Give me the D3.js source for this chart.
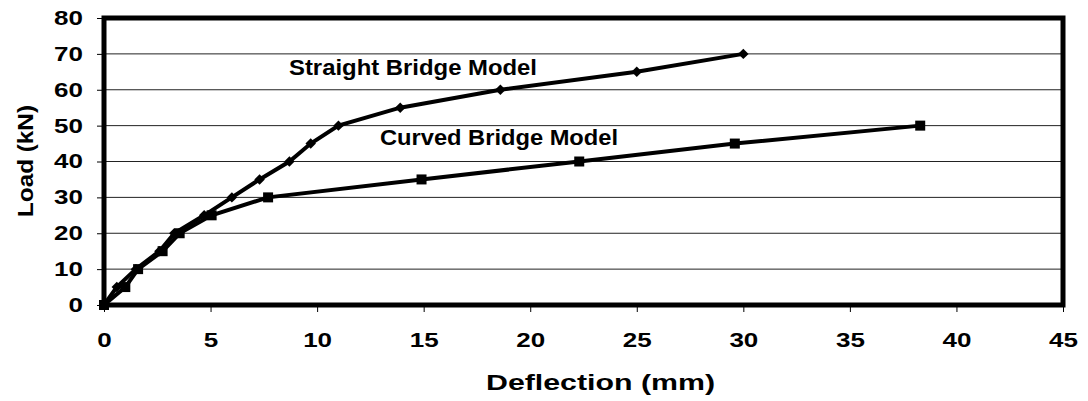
<!DOCTYPE html>
<html>
<head>
<meta charset="utf-8">
<script src="https://cdn.jsdelivr.net/npm/d3@7"></script>
<style>
  body { margin: 0; background: #fff; }
  text { font-family: "Liberation Sans", Arial, sans-serif; font-weight: bold; fill: #000; }
</style>
</head>
<body>
<div id="chart"></div>
<script>
// Load-deflection data
const straightDeflection = [0, 0.6, 1.5, 2.6, 3.3, 4.7, 6.0, 7.3, 8.7, 9.7, 11.0, 13.9, 18.6, 25.0, 30.0];
const straightLoad       = [0, 5, 10, 15, 20, 25, 30, 35, 40, 45, 50, 55, 60, 65, 70];
const curvedDeflection   = [0, 1.0, 1.6, 2.75, 3.55, 5.05, 7.7, 14.9, 22.3, 29.6, 38.3];
const curvedLoad         = [0, 5, 10, 15, 20, 25, 30, 35, 40, 45, 50];
const xTicks = [0, 5, 10, 15, 20, 25, 30, 35, 40, 45];
const yTicks = [0, 10, 20, 30, 40, 50, 60, 70, 80];

(function() {
    const width = 1088, height = 401;
    const margin = {left: 104, right: 25, top: 18, bottom: 96};
    const w = width - margin.left - margin.right;
    const h = height - margin.top - margin.bottom;

    const svg = d3.select("#chart").append("svg")
        .attr("width", width)
        .attr("height", height);

    const x = d3.scaleLinear().domain([0, 45]).range([0, w]);
    const y = d3.scaleLinear().domain([0, 80]).range([h, 0]);

    const g = svg.append("g")
        .attr("transform", `translate(${margin.left},${margin.top})`);

    // grid lines
    g.selectAll(".grid").data(yTicks.slice(1, -1))
        .enter().append("line")
        .attr("x1", 0).attr("x2", w)
        .attr("y1", d => y(d)).attr("y2", d => y(d))
        .attr("stroke", "#222").attr("stroke-width", 1);

    // axes (labels in the original are stretched sideways)
    const xAxis = g.append("g")
        .attr("transform", `translate(0,${h})`)
        .call(d3.axisBottom(x).tickValues(xTicks).tickSize(7).tickPadding(21));
    const yAxis = g.append("g")
        .call(d3.axisLeft(y).tickValues(yTicks).tickSize(7));
    [xAxis, yAxis].forEach(a => {
        a.select(".domain").remove();
        a.selectAll("line").attr("stroke", "#000").attr("stroke-width", 1);
        a.selectAll("text").style("font-size", "20px")
            .style("font-family", "Liberation Sans, Arial, sans-serif").style("font-weight", "bold");
    });
    xAxis.selectAll("text").attr("transform", "scale(1.3,1)");
    yAxis.selectAll("text").attr("x", 0).attr("transform", "translate(-21,0) scale(1.3,1)");

    // frame
    g.append("rect")
        .attr("x", 0).attr("y", 0).attr("width", w).attr("height", h)
        .attr("fill", "none").attr("stroke", "#000").attr("stroke-width", 5);

    const line = d3.line().x(d => x(d[0])).y(d => y(d[1]));
    const straight = straightDeflection.map((d, i) => [d, straightLoad[i]]);
    const curved = curvedDeflection.map((d, i) => [d, curvedLoad[i]]);

    g.append("path").datum(curved).attr("d", line)
        .attr("fill", "none").attr("stroke", "#000").attr("stroke-width", 4);
    g.append("path").datum(straight).attr("d", line)
        .attr("fill", "none").attr("stroke", "#000").attr("stroke-width", 4);

    g.selectAll(".sq").data(curved).enter().append("rect")
        .attr("x", d => x(d[0]) - 5).attr("y", d => y(d[1]) - 5)
        .attr("width", 10).attr("height", 10).attr("fill", "#000");
    g.selectAll(".dm").data(straight).enter().append("path")
        .attr("d", d3.symbol().type(d3.symbolDiamond2).size(70))
        .attr("transform", d => `translate(${x(d[0])},${y(d[1])})`)
        .attr("fill", "#000");

    // series labels
    svg.append("text").attr("x", 289).attr("y", 75)
        .attr("textLength", 248).attr("lengthAdjust", "spacingAndGlyphs")
        .style("font-size", "22px").text("Straight Bridge Model");
    svg.append("text").attr("x", 380).attr("y", 145)
        .attr("textLength", 238).attr("lengthAdjust", "spacingAndGlyphs")
        .style("font-size", "22px").text("Curved Bridge Model");

    // axis titles
    svg.append("text").attr("x", 486).attr("y", 390)
        .attr("textLength", 229).attr("lengthAdjust", "spacingAndGlyphs")
        .style("font-size", "22px").text("Deflection (mm)");
    svg.append("text")
        .attr("transform", `translate(33,217) rotate(-90)`)
        .attr("textLength", 112).attr("lengthAdjust", "spacingAndGlyphs")
        .style("font-size", "22px").text("Load (kN)");
})();
</script>
</body>
</html>
